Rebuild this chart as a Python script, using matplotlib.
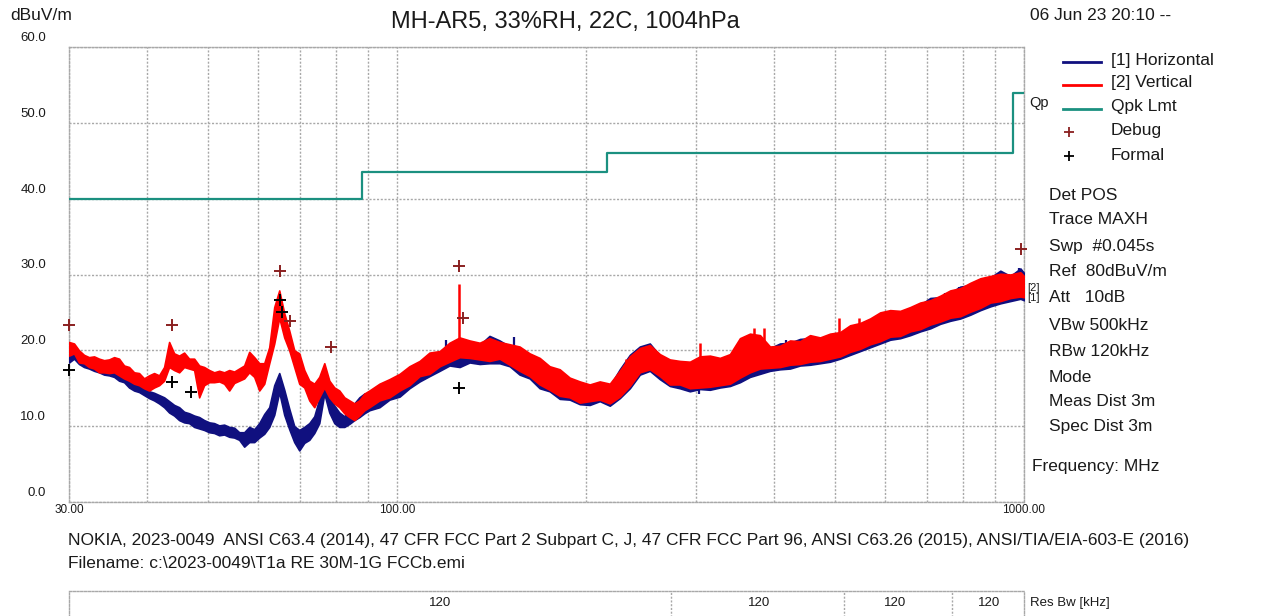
import matplotlib
matplotlib.use("Agg")
import matplotlib.pyplot as plt
import matplotlib.transforms as mtransforms
from matplotlib.ticker import NullLocator

plt.rcParams['font.family'] = ['Liberation Sans', 'DejaVu Sans']

# ---------------- data ----------------
freq_mhz = [30.00, 30.56, 31.12, 31.70, 32.29, 32.89, 33.50, 34.12, 34.75, 35.40,
            36.05, 36.72, 37.40, 38.10, 38.80, 39.52, 40.26, 41.00, 41.76, 42.54,
            43.33, 44.13, 44.95, 45.78, 46.63, 47.50, 48.38, 49.27, 50.19, 51.12,
            52.07, 53.03, 54.02, 55.02, 56.04, 57.08, 58.14, 59.22, 60.32, 61.44,
            62.58, 63.74, 64.92, 66.12, 67.35, 68.60, 69.87, 71.17, 72.49, 73.83,
            75.20, 76.60, 78.02, 79.47, 80.94, 82.45, 83.98, 85.53, 87.12, 88.74,
            90.38,
            93.8, 97.3, 101.0, 104.7, 108.7, 112.7, 117.0, 121.3, 125.9, 130.6,
            135.5, 140.5, 145.8, 151.3, 156.9, 162.8, 168.9, 175.2, 181.8, 188.6,
            195.7, 203.0, 210.6, 218.5, 226.7, 235.2, 244.0, 253.1, 262.6, 272.4,
            282.6, 293.2, 304.2, 315.6, 327.4, 339.7, 352.4, 365.6, 379.3, 393.5,
            408.2, 423.5, 439.4, 455.8, 472.9, 490.6, 509.0, 528.0, 547.8, 568.3,
            589.6, 611.7, 634.6, 658.4, 683.1, 708.7, 735.2, 762.8, 791.4, 821.0,
            851.8, 883.7, 916.8, 951.2, 986.8, 1000.0]

# [1] Horizontal trace: lower / upper edge of the noisy trace (dBuV/m)
horiz_lo = [18.4, 18.9, 18.2, 17.8, 17.6, 17.3, 17.1, 16.8, 16.7, 16.5,
            16.0, 15.8, 15.1, 14.7, 14.5, 14.1, 13.7, 13.4, 13.0, 12.5,
            11.8, 11.4, 10.8, 10.5, 10.4, 9.9, 9.7, 9.5, 9.2, 9.1,
            8.8, 8.9, 8.6, 8.5, 8.2, 7.3, 7.9, 7.9, 8.5, 9.0,
            9.9, 11.5, 14.5, 11.5, 9.6, 7.9, 6.8, 7.8, 8.2, 9.1,
            10.4, 14.3, 11.8, 10.4, 9.9, 9.9, 10.3, 10.8, 11.2, 11.7,
            12.1,
            12.5, 13.5, 13.9, 15.0, 15.9, 16.6, 17.3, 18.0, 17.8, 18.4,
            18.2, 18.3, 18.3, 17.9, 16.8, 16.3, 15.0, 14.6, 13.6, 13.5,
            12.9, 12.8, 13.3, 12.7, 13.7, 15.0, 16.8, 17.3, 16.2, 15.3,
            15.0, 14.6, 14.9, 14.8, 15.1, 15.3, 15.8, 16.5, 16.9, 17.3,
            17.5, 17.6, 18.0, 18.1, 18.3, 18.5, 18.9, 19.4, 19.9, 20.4,
            20.9, 21.4, 21.6, 22.0, 22.5, 22.9, 23.5, 23.9, 24.2, 24.7,
            25.3, 25.8, 26.2, 26.5, 26.8, 26.6]
horiz_hi = [19.6, 20.3, 19.4, 18.9, 18.6, 18.4, 18.5, 18.0, 17.9, 17.7,
            17.4, 17.1, 16.4, 15.9, 15.7, 15.5, 14.6, 14.4, 14.1, 13.8,
            13.3, 12.8, 12.5, 11.9, 11.7, 11.4, 11.2, 10.8, 10.5, 10.4,
            10.1, 10.2, 9.9, 9.8, 9.2, 9.2, 9.9, 9.6, 10.4, 11.6,
            12.5, 15.4, 17.0, 14.8, 12.3, 10.0, 9.5, 9.9, 10.4, 11.3,
            13.6, 17.1, 14.8, 12.7, 11.8, 11.3, 12.1, 13.0, 13.8, 14.3,
            14.3,
            15.2, 16.0, 16.5, 17.4, 18.2, 19.4, 19.6, 20.4, 20.2, 21.0,
            20.7, 21.9, 21.3, 20.5, 20.2, 19.3, 18.9, 17.7, 17.2, 16.1,
            15.7, 15.3, 15.7, 15.3, 17.5, 19.4, 20.5, 20.9, 19.3, 18.5,
            18.3, 18.2, 18.5, 18.4, 18.6, 18.7, 18.9, 19.2, 19.7, 20.3,
            20.9, 21.0, 21.5, 21.6, 21.4, 21.9, 22.1, 23.0, 23.4, 24.0,
            24.7, 25.1, 25.0, 25.4, 26.0, 26.9, 27.0, 27.6, 28.4, 28.6,
            29.2, 29.6, 30.5, 29.8, 30.8, 30.2]

# [2] Vertical trace: lower / upper edge
vert_lo = [19.3, 19.6, 18.4, 18.3, 17.8, 17.6, 17.1, 17.1, 17.0, 17.1,
           16.7, 16.3, 16.0, 15.6, 15.4, 15.0, 14.7, 15.1, 15.4, 16.0,
           17.8, 17.4, 17.1, 17.8, 17.6, 17.4, 13.8, 15.4, 15.8, 15.8,
           15.9, 15.6, 14.7, 15.7, 16.0, 16.3, 17.1, 16.5, 14.7, 15.6,
           18.3, 20.9, 24.3, 21.7, 20.0, 17.8, 15.6, 15.1, 13.4, 12.5,
           13.8, 15.1, 13.8, 13.0, 12.5, 11.7, 11.2, 10.8, 11.4, 12.1,
           12.5,
           13.4, 13.8, 14.7, 15.4, 16.6, 16.9, 17.9, 18.5, 19.1, 19.0,
           18.8, 18.6, 18.9, 18.1, 17.3, 16.6, 15.5, 14.8, 14.0, 13.8,
           13.1, 13.3, 13.5, 13.0, 13.9, 15.3, 17.1, 17.5, 16.6, 15.5,
           15.5, 15.0, 15.1, 15.2, 15.4, 15.6, 16.4, 17.1, 17.6, 17.7,
           17.8, 18.1, 18.2, 18.5, 18.6, 18.9, 19.2, 19.8, 20.2, 20.8,
           21.2, 21.8, 21.9, 22.5, 22.8, 23.4, 23.8, 24.3, 24.5, 25.1,
           25.6, 26.3, 26.5, 26.9, 27.1, 27.0]
vert_hi = [21.1, 20.9, 20.0, 19.4, 19.1, 19.2, 18.9, 18.7, 18.8, 19.1,
           18.9, 18.0, 17.8, 17.1, 17.0, 16.3, 16.7, 17.0, 16.7, 17.8,
           21.1, 19.6, 19.3, 19.7, 18.9, 18.9, 18.0, 17.8, 17.4, 17.1,
           17.3, 17.1, 17.4, 17.2, 17.6, 18.0, 19.8, 19.1, 18.3, 18.3,
           20.4, 25.7, 27.9, 24.9, 22.6, 20.0, 19.6, 17.4, 16.0, 15.6,
           16.5, 18.3, 16.0, 15.1, 14.7, 13.8, 13.4, 13.0, 13.4, 14.3,
           14.7,
           15.6, 16.2, 16.9, 17.9, 18.6, 19.7, 19.9, 21.0, 21.7, 21.3,
           21.0, 21.6, 21.1, 20.8, 20.5, 19.6, 19.0, 17.9, 17.5, 16.4,
           15.9, 15.5, 15.9, 15.6, 17.3, 19.2, 20.3, 20.7, 19.5, 18.8,
           18.6, 18.5, 19.2, 19.3, 19.0, 19.5, 21.6, 22.2, 22.0, 20.5,
           20.6, 21.3, 21.2, 22.0, 21.7, 22.2, 22.4, 23.3, 23.6, 24.2,
           25.0, 25.3, 25.2, 25.7, 26.3, 26.6, 27.2, 27.9, 28.2, 28.9,
           29.5, 29.8, 30.1, 30.0, 30.3, 29.8]

# narrow spikes standing out of each trace
horiz_spike_f = [119.6, 153.6, 303.3, 417.6, 747.0, 789.0, 981.0]
horiz_spike_base = [18.5, 20.5, 15.0, 20.0, 26.5, 27.0, 29.5]
horiz_spike_top = [21.3, 21.7, 14.3, 21.3, 27.6, 28.3, 30.8]
vert_spike_f = [125.6, 232.0, 304.0, 371.0, 385.0, 507.0, 546.0]
vert_spike_base = [20.0, 17.0, 18.5, 20.5, 20.5, 21.5, 22.5]
vert_spike_top = [28.8, 18.9, 21.0, 23.0, 22.9, 24.3, 24.2]

# Quasi-peak limit (step starts)
limit_f = [30, 88, 216, 960, 1000]
limit_v = [40.0, 43.5, 46.0, 54.0, 54.0]

# Markers
debug_f = [30.0, 43.8, 65.1, 67.5, 78.4, 125.4, 127.7, 989.0]
debug_v = [23.4, 23.4, 30.4, 23.9, 20.5, 31.1, 24.2, 33.3]
formal_f = [30.0, 43.8, 47.0, 65.1, 65.6, 125.6]
formal_v = [17.4, 15.8, 14.5, 26.6, 25.0, 15.0]

# Axes ticks / grid
x_grid = [30, 40, 50, 60, 70, 80, 90, 100, 200, 300, 400, 500, 600, 700, 800, 900, 1000]
x_labels = {30: '30.00', 100: '100.00', 1000: '1000.00'}
y_ticks = [0, 10, 20, 30, 40, 50, 60]

# Res Bw strip
rbw_edges = [274, 516, 767]
rbw_label_f = [117, 378, 624, 881]
rbw_values = [120, 120, 120, 120]

info_lines = ['Det POS', 'Trace MAXH', 'Swp  #0.045s', 'Ref  80dBuV/m', 'Att   10dB',
              'VBw 500kHz', 'RBw 120kHz', 'Mode', 'Meas Dist 3m', 'Spec Dist 3m']
legend_labels = ['[1] Horizontal', '[2] Vertical', 'Qpk Lmt', 'Debug', 'Formal']

# ---------------- styles ----------------
NAVY = '#10107f'
RED = '#ff0000'
TEAL = '#1b9080'
DEBUG_C = '#8a2020'
GRID_C = '#a8a8a8'
TXT = '#1a1a1a'

W, H = 1275, 616
fig = plt.figure(figsize=(W / 100, H / 100), dpi=100)
fig.patch.set_facecolor('white')

def fx(px):
    return px / W

def fy(py):
    return 1 - py / H

L, R, T, B = 69, 1024, 47, 502
ax = fig.add_axes([fx(L), fy(B), (R - L) / W, (B - T) / H])
ax.set_xscale('log')
ax.set_xlim(30, 1000)
ax.set_ylim(0, 60)
ax.set_xticks(x_grid)
ax.xaxis.set_minor_locator(NullLocator())
ax.set_yticks(y_ticks)
ax.set_xticklabels([])
ax.set_yticklabels([])
ax.tick_params(length=0)
ax.grid(True, color=GRID_C, linestyle=(0, (1.5, 1.2)), linewidth=1.0)
for sp in ax.spines.values():
    sp.set_color(GRID_C)
    sp.set_linestyle((0, (1.5, 1.2)))
    sp.set_linewidth(1.0)

# traces
ax.fill_between(freq_mhz, horiz_lo, horiz_hi, color=NAVY, linewidth=1.2,
                edgecolor=NAVY, zorder=3)
ax.vlines(horiz_spike_f, horiz_spike_base, horiz_spike_top, color=NAVY, linewidth=1.6, zorder=3)
ax.fill_between(freq_mhz, vert_lo, vert_hi, color=RED, linewidth=1.2,
                edgecolor=RED, zorder=4)
ax.vlines(vert_spike_f, vert_spike_base, vert_spike_top, color=RED, linewidth=1.8, zorder=4)

# limit
ax.step(limit_f, limit_v, where='post', color=TEAL, linewidth=1.6, zorder=5)

# markers
ax.plot(debug_f, debug_v, linestyle='none', marker='+', color=DEBUG_C, markersize=8,
        markeredgewidth=1.4, zorder=6, clip_on=False)
ax.plot(formal_f, formal_v, linestyle='none', marker='+', color='black', markersize=8,
        markeredgewidth=1.4, zorder=6, clip_on=False)

# y tick labels (drawn above the grid lines)
ylab_tr = mtransforms.blended_transform_factory(ax.transAxes, ax.transData) + \
    mtransforms.ScaledTranslation(0, 9 / 100, fig.dpi_scale_trans)
for v in y_ticks:
    ax.text(-23 / (R - L), v, f'{v:.1f}', transform=ylab_tr, ha='right', va='center',
            fontsize=9.5, color=TXT, clip_on=False)
xlab_tr = mtransforms.blended_transform_factory(ax.transData, ax.transAxes) + \
    mtransforms.ScaledTranslation(0, -8 / 100, fig.dpi_scale_trans)
for f, s in x_labels.items():
    ax.text(f, 0, s, transform=xlab_tr, ha='center', va='center', fontsize=8.5,
            color=TXT, clip_on=False)

# ---------------- texts around ----------------
fig.text(fx(565), fy(22), 'MH-AR5, 33%RH, 22C, 1004hPa', ha='center', va='center',
         fontsize=17, color=TXT)
fig.text(fx(10), fy(15), 'dBuV/m', ha='left', va='center', fontsize=12.5, color=TXT)
fig.text(fx(1030), fy(16), '06 Jun 23 20:10 --', ha='left', va='center', fontsize=12.5, color=TXT)
fig.text(fx(1029), fy(103), 'Qp', ha='left', va='center', fontsize=10.5, color=TXT)
fig.text(fx(1027), fy(288), '[2]', ha='left', va='center', fontsize=8, color=TXT)
fig.text(fx(1027), fy(298), '[1]', ha='left', va='center', fontsize=8, color=TXT)

# legend
ov = fig.add_axes([0, 0, 1, 1])
ov.set_xlim(0, W)
ov.set_ylim(H, 0)
ov.axis('off')
ov.patch.set_alpha(0)
leg_y = [60, 83, 107, 131, 155]
leg_colors = [NAVY, RED, TEAL]
for i, lab in enumerate(legend_labels):
    if i < 3:
        ov.plot([1063, 1101], [leg_y[i] + 2, leg_y[i] + 2], color=leg_colors[i], linewidth=2)
    else:
        ov.plot([1069], [leg_y[i] + 1], marker='+', color=DEBUG_C if i == 3 else 'black',
                markersize=7, markeredgewidth=1.3, linestyle='none')
    ov.text(1111, leg_y[i], lab, ha='left', va='center', fontsize=12.5, color=TXT)

info_y = [195, 220, 246, 272, 298, 325, 351, 377, 401, 426]
for yy, s in zip(info_y, info_lines):
    ov.text(1049, yy, s, ha='left', va='center', fontsize=12.5, color=TXT)
ov.text(1032, 467, 'Frequency: MHz', ha='left', va='center', fontsize=12.5, color=TXT)

ov.text(68, 541, 'NOKIA, 2023-0049  ANSI C63.4 (2014), 47 CFR FCC Part 2 Subpart C, J, 47 CFR FCC '
        'Part 96, ANSI C63.26 (2015), ANSI/TIA/EIA-603-E (2016)', ha='left', va='center',
        fontsize=12.5, color=TXT, clip_on=False)
ov.text(68, 563, 'Filename: c:\\2023-0049\\T1a RE 30M-1G FCCb.emi', ha='left', va='center',
        fontsize=12.5, color=TXT)
ov.text(1030, 603, 'Res Bw [kHz]', ha='left', va='center', fontsize=9.5, color=TXT)

# Res Bw strip
rb_top, rb_h = 591, 60
rb = fig.add_axes([fx(L), fy(rb_top + rb_h), (R - L) / W, rb_h / H])
rb.set_xscale('log')
rb.set_xlim(30, 1000)
rb.set_ylim(0, 1)
rb.set_xticks([])
rb.set_yticks([])
rb.xaxis.set_minor_locator(NullLocator())
for sp in rb.spines.values():
    sp.set_color(GRID_C)
    sp.set_linestyle((0, (1.5, 1.2)))
    sp.set_linewidth(1.0)
rb.vlines(rbw_edges, 0, 1, color=GRID_C, linestyle=(0, (1.5, 1.2)), linewidth=1.0)
for f, v in zip(rbw_label_f, rbw_values):
    rb.text(f, 1 - 12 / rb_h, str(v), ha='center', va='center', fontsize=9.5, color=TXT)

fig.savefig('out.png', dpi=100)
